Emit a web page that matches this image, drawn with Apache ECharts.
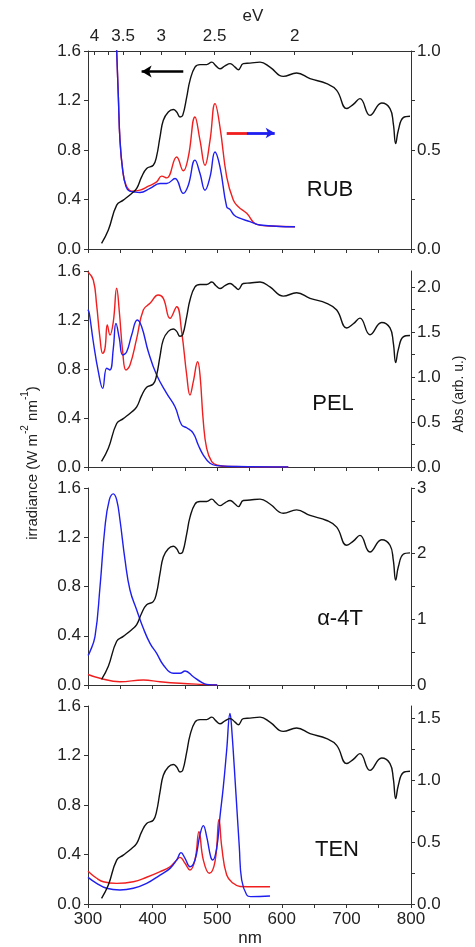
<!DOCTYPE html>
<html><head><meta charset="utf-8">
<script src="https://cdn.jsdelivr.net/npm/echarts@6/dist/echarts.min.js"></script>
<style>html,body{margin:0;padding:0;background:#fff}#c{width:475px;height:947px}</style>
</head><body><div id="c"></div>
<script>
// ---- data ----
const solarNm  = [321,331.5,344.4,354.6,367.6,375.4,383,390.8,401,406,411.5,416.6,424.3,432,437.3,442.4,446.6,452.8,457.9,465.6,473.4,483.7,491.5,498,504.3,512,520,527.6,532.7,540.4,550.8,566.3,581.7,602.3,623,643.7,669.5,685,700.5,710.7,721,736.5,754.6,767.5,772.6,776.3,780.4,788,798.5];
const solarIrr = [0.046,0.153,0.355,0.395,0.449,0.49,0.583,0.651,0.677,0.745,0.906,1.04,1.107,1.127,1.107,1.067,1.08,1.228,1.363,1.47,1.49,1.49,1.51,1.48,1.457,1.48,1.498,1.47,1.449,1.498,1.502,1.51,1.47,1.395,1.422,1.377,1.336,1.282,1.135,1.169,1.215,1.08,1.18,1.135,1.014,0.852,0.96,1.062,1.073];

const rubRedNm  = [343.2,344.4,347,349.5,353.7,358.8,367.6,380.5,393.4,406.3,414,421.8,437.3,447.5,455.3,465.6,473.4,481.1,488.9,496.6,504.3,514.7,524.9,532.7,545.7,561.1,581.7,620.4];
const rubRedAbs = [1.12,1.0,0.768,0.549,0.398,0.323,0.292,0.297,0.317,0.339,0.368,0.359,0.465,0.395,0.465,0.667,0.549,0.423,0.549,0.734,0.616,0.364,0.247,0.213,0.18,0.124,0.116,0.112];
const rubBlueNm  = [343.2,344.4,347,349.5,353.7,358.8,364,370,380.5,396,411.5,421.8,434.7,447.5,455.3,465.6,473.4,481.1,488.9,496.6,504.3,514.7,519.8,526,532.7,550.8,566.3,620.4];
const rubBlueAbs = [1.12,1.0,0.768,0.549,0.398,0.315,0.293,0.289,0.285,0.306,0.331,0.331,0.356,0.281,0.322,0.449,0.381,0.297,0.364,0.49,0.415,0.213,0.2,0.172,0.158,0.138,0.121,0.112];

const pelRedNm  = [300,308.2,313.4,318.6,322.7,326.3,329.9,334,339.2,344.4,348.5,353.7,358.8,365,375.4,385.6,396,408.8,416.6,427,437.3,445,452.8,457.9,463,469.8,473.4,478.5,483.7,491.5,500,520,560,610];
const pelRedAbs = [2.17,2.08,1.80,1.43,1.264,1.32,1.58,1.468,1.616,1.988,1.727,1.282,1.079,1.134,1.43,1.746,1.82,1.913,1.876,1.654,1.783,1.504,1.023,0.801,0.949,1.171,1.023,0.504,0.208,0.059,0.02,0.005,0,0];
const pelBlueNm  = [300,302,308.2,316,322.7,328.9,334,339.2,343.3,348.5,353.7,359.9,367.6,376.3,383.1,393.4,406.3,421.8,434.7,445,452.8,463,470.7,478.5,488.9,500,530,610];
const pelBlueAbs = [1.75,1.71,1.393,1.06,0.875,1.098,1.079,1.32,1.598,1.43,1.246,1.282,1.468,1.635,1.56,1.282,1.023,0.82,0.67,0.467,0.437,0.375,0.245,0.133,0.041,0.015,0.005,0];

const t4RedNm  = [300,318.6,349.5,385.6,411.5,442.4,473,500];
const t4RedAbs = [0.16,0.102,0.05,0.076,0.05,0.026,0.01,0];
const t4BlueNm  = [300,302,310.8,318.6,326.3,333,339.2,344.4,349.5,357.3,365,375.4,385.6,396,406.3,416.6,432,442.4,450.2,463,476,483.7,500];
const t4BlueAbs = [0.45,0.482,0.735,1.497,2.41,2.818,2.91,2.818,2.513,1.904,1.447,1.142,0.863,0.635,0.483,0.305,0.178,0.178,0.213,0.126,0.041,0.01,0];

const tenRedNm  = [300,313.4,323.7,344.4,370.1,390.8,411.5,427,437.3,442.4,450.2,457.9,465.6,471.8,478.5,487.8,496.6,502.8,507,514.7,524.9,535.3,560,581.7];
const tenRedAbs = [0.265,0.208,0.18,0.167,0.18,0.216,0.261,0.301,0.356,0.377,0.329,0.275,0.356,0.584,0.356,0.248,0.342,0.684,0.463,0.234,0.167,0.142,0.14,0.14];
const tenBlueNm  = [300,313.4,328.9,349.5,370.1,390.8,411.5,427,437.3,444,450.2,457.9,465.6,473.4,478.5,483.7,490,493,499.2,504.3,509.5,514.7,519.8,522,529,534.2,537.9,545.7,552,581.7];
const tenBlueAbs = [0.215,0.167,0.127,0.113,0.127,0.167,0.234,0.288,0.356,0.415,0.369,0.301,0.356,0.56,0.633,0.544,0.38,0.356,0.45,0.706,0.948,1.244,1.54,1.45,0.894,0.463,0.194,0.073,0.06,0.065];

const panelNames = ['RUB','PEL','\u03b1-4T','TEN'];
const xTickLabels = [300,400,500,600,700,800];
const xTickAll = [300,350,400,450,500,550,600,650,700,750,800];
const eVLabels = [4,3.5,3,2.5,2];
const eVTicks = [4,3.75,3.5,3.25,3,2.75,2.5,2.25,2,1.75];
const irrTicks = [0,0.4,0.8,1.2,1.6];
const absLabelTicks = [[0,0.5,1.0],[0,0.5,1.0,1.5,2.0],[0,1,2,3],[0,0.5,1.0,1.5]];
const absAllTicks = [[0,0.25,0.5,0.75,1.0],[0,0.25,0.5,0.75,1.0,1.25,1.5,1.75,2.0],[0,0.5,1,1.5,2,2.5,3],[0,0.25,0.5,0.75,1.0,1.25,1.5]];
const absMax = [1.0,2.18,3,1.6];

// ---- layout ----
const gridTop = [51,271,488,706];
const gridH = [198,196,197,198];
const FONT = 'Liberation Sans, Arial, sans-serif';
const AX = '#333', TXT = '#222', RED = '#f01e1e', BLUE = '#1e1ef0';
const FS = 17;

const zip = (a,b) => a.map((v,i)=>[v,b[i]]);
const curves = [
  [zip(rubRedNm,rubRedAbs), zip(rubBlueNm,rubBlueAbs)],
  [zip(pelRedNm,pelRedAbs), zip(pelBlueNm,pelBlueAbs)],
  [zip(t4RedNm,t4RedAbs), zip(t4BlueNm,t4BlueAbs)],
  [zip(tenRedNm,tenRedAbs), zip(tenBlueNm,tenBlueAbs)]
];
const solar = zip(solarNm, solarIrr);

const grids=[], xAxes=[], yAxes=[], series=[];
for (let i=0;i<4;i++){
  grids.push({left:88, width:323, top:gridTop[i], height:gridH[i]});
  xAxes.push({gridIndex:i, type:'value', min:300, max:800, position:'bottom',
    axisLine:{show:true, onZero:false, lineStyle:{color:AX,width:1}},
    axisTick:{show:true, length:4, customValues:xTickAll, lineStyle:{color:AX}},
    axisLabel:{show:i===3, customValues:xTickLabels, margin:7, fontSize:FS, fontFamily:FONT, color:TXT},
    splitLine:{show:false}});
  yAxes.push({gridIndex:i, type:'value', min:0, max:1.6, interval:0.4, position:'left',
    axisLine:{show:true, lineStyle:{color:AX,width:1}},
    axisTick:{show:true, length:4, lineStyle:{color:AX}},
    axisLabel:{margin:7, fontSize:FS, fontFamily:FONT, color:TXT, formatter:v=>v.toFixed(1)},
    splitLine:{show:false}});
  yAxes.push({gridIndex:i, type:'value', min:0, max:absMax[i], position:'right',
    axisLine:{show:true, lineStyle:{color:AX,width:1}},
    axisTick:{show:true, length:4, customValues:absAllTicks[i], lineStyle:{color:AX}},
    axisLabel:{customValues:absLabelTicks[i], margin:6, fontSize:FS, fontFamily:FONT, color:TXT,
      formatter: v => i===2 ? String(Math.round(v)) : v.toFixed(1)},
    splitLine:{show:false}});
  const base = {type:'line', xAxisIndex:i, showSymbol:false, symbol:'none', smooth:0.45, silent:true, animation:false, clip:true};
  series.push(Object.assign({}, base, {yAxisIndex:2*i, data:solar, lineStyle:{color:'#111', width:1.4}, z:3,
    markLine: i===0 ? {silent:true, symbol:['none','arrow'], symbolSize:[9,10], animation:false,
      lineStyle:{color:'#000', width:2.6, type:'solid'}, label:{show:false}, emphasis:{disabled:true},
      data:[[{coord:[447.5,1.435]},{coord:[383,1.435]}]]} : undefined}));
  series.push(Object.assign({}, base, {yAxisIndex:2*i+1, data:curves[i][0], lineStyle:{color:RED, width:1.4}, z:2,
    markLine: i===0 ? {silent:true, symbol:['none','none'], animation:false,
      lineStyle:{color:RED, width:2.8, type:'solid'}, label:{show:false}, emphasis:{disabled:true},
      data:[[{coord:[514.7,0.586]},{coord:[546.5,0.586]}]]} : undefined}));
  series.push(Object.assign({}, base, {yAxisIndex:2*i+1, data:curves[i][1], lineStyle:{color:BLUE, width:1.4}, z:2,
    markLine: i===0 ? {silent:true, symbol:['none','arrow'], symbolSize:[8,9], animation:false,
      lineStyle:{color:BLUE, width:2.8, type:'solid'}, label:{show:false}, emphasis:{disabled:true},
      data:[[{coord:[546,0.586]},{coord:[589,0.586]}]]} : undefined}));
}
// top eV axis
xAxes.push({gridIndex:0, type:'value', min:300, max:800, position:'top',
  axisLine:{show:true, onZero:false, lineStyle:{color:AX,width:1}},
  axisTick:{show:true, inside:true, length:4, customValues:eVTicks.map(e=>1240/e), lineStyle:{color:AX}},
  axisLabel:{customValues:eVLabels.map(e=>1240/e), margin:6, fontSize:FS, fontFamily:FONT, color:TXT,
    formatter:v=>String(Math.round(1240/v*100)/100)},
  splitLine:{show:false}});

const panelLabelPos = [[330,190],[333,404],[340,619],[337,850]];
const graphics = panelNames.map((n,i)=>({type:'text', x:panelLabelPos[i][0], y:panelLabelPos[i][1], silent:true,
  style:{text:n, fontSize:22, fontFamily:FONT, fill:'#111', align:'center', verticalAlign:'middle'}}));
graphics.push({type:'text', x:253, y:16, silent:true, style:{text:'eV', fontSize:FS, fontFamily:FONT, fill:TXT, align:'center', verticalAlign:'middle'}});
graphics.push({type:'text', x:250, y:938, silent:true, style:{text:'nm', fontSize:FS, fontFamily:FONT, fill:TXT, align:'center', verticalAlign:'middle'}});
graphics.push({type:'text', x:30, y:463, rotation:Math.PI/2, silent:true, style:{
  text:'{n|irradiance (W m}{s|-2}{n| nm}{s|-1}{n|)}', align:'center', verticalAlign:'middle', fill:TXT,
  rich:{n:{fontSize:15, fontFamily:FONT, fill:TXT, lineHeight:20, verticalAlign:'bottom'},
        s:{fontSize:10, fontFamily:FONT, fill:TXT, lineHeight:20, verticalAlign:'top'}}}});
graphics.push({type:'text', x:459, y:394, rotation:Math.PI/2, silent:true, style:{text:'Abs (arb. u.)', fontSize:14, fontFamily:FONT, fill:TXT, align:'center', verticalAlign:'middle'}});

const chart = echarts.init(document.getElementById('c'), null, {renderer:'canvas'});
chart.setOption({animation:false, backgroundColor:'#fff', grid:grids, xAxis:xAxes, yAxis:yAxes, series:series, graphic:graphics});
</script></body></html>
